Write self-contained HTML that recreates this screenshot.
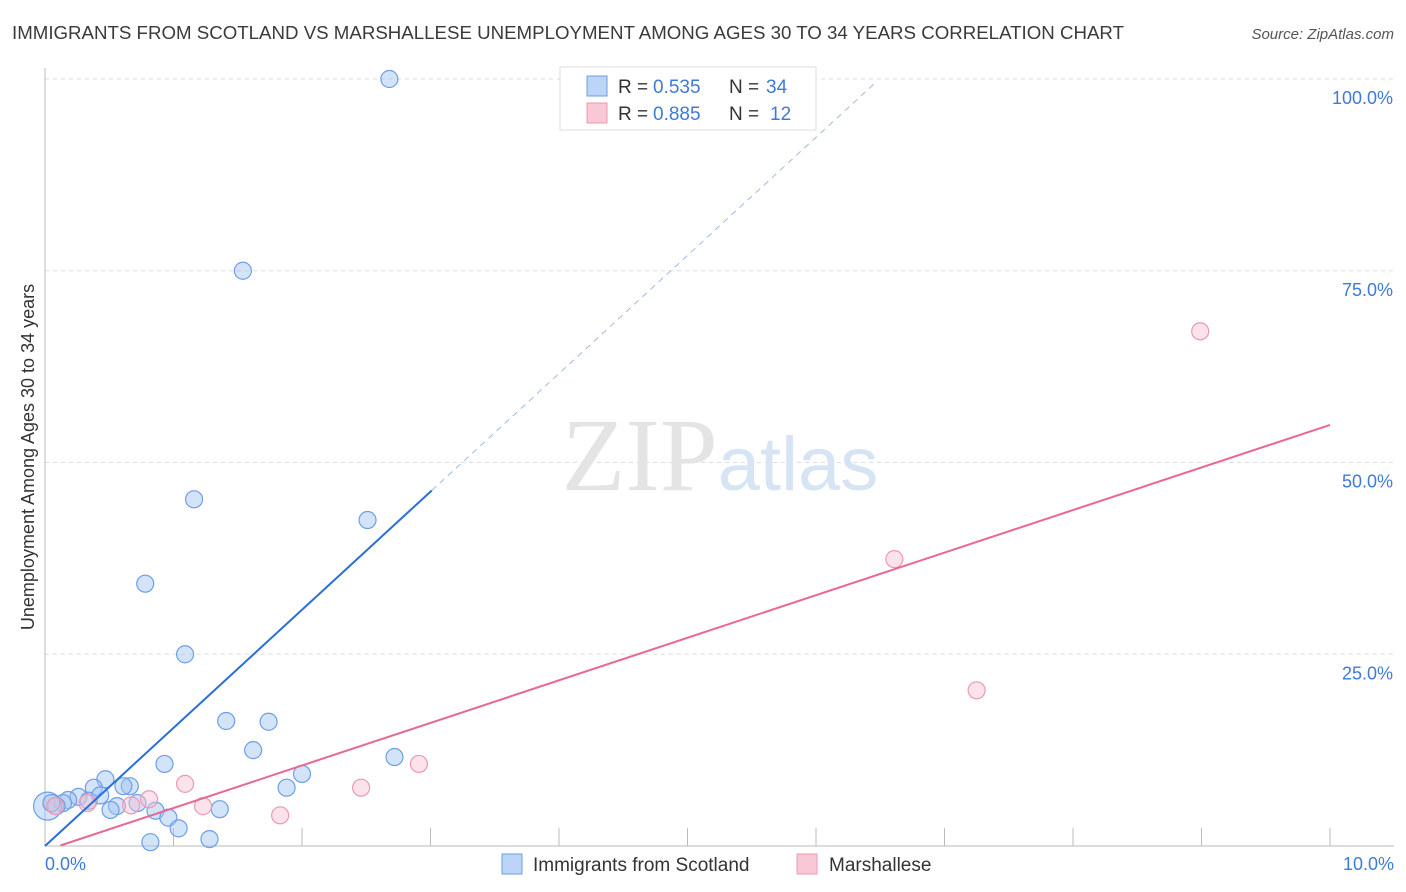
<!DOCTYPE html>
<html><head><meta charset="utf-8"><style>
body{margin:0;background:#fff;font-family:"Liberation Sans",sans-serif;}
</style></head><body>
<svg width="1406" height="892" viewBox="0 0 1406 892" xmlns="http://www.w3.org/2000/svg" style="display:block">
<text x="12" y="39" font-size="18" fill="#3a3a3a" textLength="1112" lengthAdjust="spacingAndGlyphs">IMMIGRANTS FROM SCOTLAND VS MARSHALLESE UNEMPLOYMENT AMONG AGES 30 TO 34 YEARS CORRELATION CHART</text>
<text x="1394" y="39" font-size="15" fill="#555" text-anchor="end" font-style="italic">Source: ZipAtlas.com</text>
<g id="grid"></g>
<text x="720" y="490" font-size="104" text-anchor="middle" font-family="Liberation Serif" fill="#e4e4e4">ZIP<tspan font-family="Liberation Sans" font-size="76" fill="#d6e4f4">atlas</tspan></text>
<line x1="45" y1="68" x2="45" y2="846" stroke="#bbb"/>
<line x1="45" y1="846" x2="1394" y2="846" stroke="#bbb"/>
<text transform="translate(34,457) rotate(-90)" font-size="18" fill="#333" text-anchor="middle">Unemployment Among Ages 30 to 34 years</text>
<text x="45" y="870" font-size="18" fill="#3d7bd9">0.0%</text>
<text x="1394" y="870" font-size="18" fill="#3d7bd9" text-anchor="end">10.0%</text>
<g id="marks"></g>
<g>
<rect x="560" y="67" width="256" height="63" fill="#fff" stroke="#ddd"/>
<rect x="587" y="76" width="20" height="20" fill="#bcd4f5" stroke="#6d9ee6"/>
<rect x="587" y="103" width="20" height="20" fill="#f9c8d6" stroke="#ec99b3"/>
<text x="618" y="93" font-size="19" fill="#333">R =</text>
<text x="653" y="93" font-size="19" fill="#3d7bd9">0.535</text>
<text x="729" y="93" font-size="19" fill="#333">N =</text>
<text x="766" y="93" font-size="19" fill="#3d7bd9">34</text>
<text x="618" y="120" font-size="19" fill="#333">R =</text>
<text x="653" y="120" font-size="19" fill="#3d7bd9">0.885</text>
<text x="729" y="120" font-size="19" fill="#333">N =</text>
<text x="770" y="120" font-size="19" fill="#3d7bd9">12</text>
</g>
<g>
<rect x="502" y="854" width="20" height="20" fill="#bcd4f5" stroke="#6d9ee6"/>
<text x="533" y="871" font-size="19" fill="#333">Immigrants from Scotland</text>
<rect x="797" y="854" width="20" height="20" fill="#f9c8d6" stroke="#ec99b3"/>
<text x="829" y="871" font-size="19" fill="#333">Marshallese</text>
</g>
</svg>
<script>
const yTicks=[25,50,75,100];
const yTickLabels=["25.0%","50.0%","75.0%","100.0%"];
const xTicks=[1,2,3,4,5,6,7,8,9,10];
const blueX=[2.68,1.54,1.16,2.51,0.78,1.09,1.41,1.74,1.62,2.72,0.93,2.0,1.88,0.47,0.66,0.38,0.61,0.26,0.18,0.14,0.09,0.34,0.56,0.72,0.51,0.86,0.96,1.36,1.04,0.82,1.28,0.02,0.05,0.43];
const blueY=[100,75,45.2,42.5,34.2,25,16.3,16.2,12.5,11.6,10.7,9.4,7.6,8.7,7.8,7.6,7.8,6.4,6.0,5.6,5.2,5.9,5.2,5.6,4.7,4.6,3.7,4.8,2.3,0.5,0.9,5.2,5.6,6.6];
const pinkX=[8.99,6.61,7.25,2.91,2.46,1.09,0.81,1.23,1.83,0.67,0.33,0.08];
const pinkY=[67.1,37.4,20.3,10.7,7.6,8.1,6.1,5.2,4.0,5.3,5.6,5.2];
const blueFit=[0,15.4];
const blueSolidEnd=3.01, blueDashEnd=6.46;
const pinkFit=[-0.6,5.55];
const pinkStart=0.12, pinkEnd=10;
const NS="http://www.w3.org/2000/svg";
const sx=v=>45+v*128.5, sy=v=>846-v*7.67;
function mk(t,a,p){const e=document.createElementNS(NS,t);for(const k in a)e.setAttribute(k,a[k]);p.appendChild(e);return e;}
const grid=document.getElementById('grid'), marks=document.getElementById('marks');
yTicks.forEach((t,i)=>{
 const l=mk('line',{x1:45,x2:1394,y1:sy(t),y2:sy(t),stroke:'#ddd','stroke-dasharray':'4,4'},grid);
 
 
 const tx=mk('text',{x:1393,y:sy(t)+25,'font-size':18,fill:'#3d7bd9','text-anchor':'end'},grid);
 tx.textContent=yTickLabels[i];
 
 
});
xTicks.forEach(t=>{
 const l=mk('line',{x1:sx(t),x2:sx(t),y1:828,y2:846,stroke:'#bbb'},grid);
 
 
});
function dot(x,y,fill,stroke,r){const c=mk('circle',{cx:sx(x),cy:sy(y),r:r,fill:fill,stroke:stroke,'stroke-width':1.2},marks);return c;}
blueX.forEach((x,i)=>{
 const c=dot(x,blueY[i],'rgba(160,196,240,0.45)','#6d9ee6',i==31?14:8.5);
 
 
});
pinkX.forEach((x,i)=>{
 const c=dot(x,pinkY[i],'rgba(248,190,208,0.45)','#ec99b3',8.5);
 
 
});
const fb=x=>blueFit[0]+blueFit[1]*x, fp=x=>pinkFit[0]+pinkFit[1]*x;
let l=mk('line',{x1:sx(0),y1:sy(fb(0)),x2:sx(blueSolidEnd),y2:sy(fb(blueSolidEnd)),stroke:'#2a6fd6','stroke-width':2},marks);


l=mk('line',{x1:sx(blueSolidEnd),y1:sy(fb(blueSolidEnd)),x2:sx(blueDashEnd),y2:sy(fb(blueDashEnd)),stroke:'#9dbbe6','stroke-width':1,'stroke-dasharray':'6,5'},marks);


l=mk('line',{x1:sx(pinkStart),y1:sy(fp(pinkStart)),x2:sx(pinkEnd),y2:sy(fp(pinkEnd)),stroke:'#e86892','stroke-width':2},marks);


</script>
</body></html>
